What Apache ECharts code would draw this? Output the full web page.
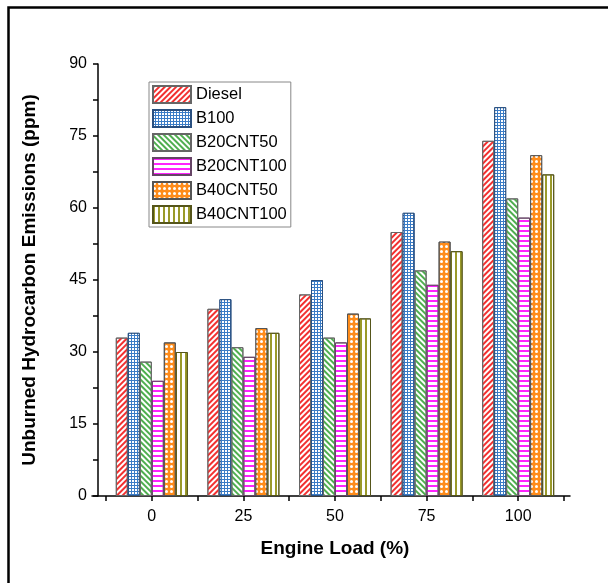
<!DOCTYPE html>
<html>
<head>
<meta charset="utf-8">
<script src="https://cdn.jsdelivr.net/npm/echarts@6/dist/echarts.min.js"></script>
<style>
html,body{margin:0;padding:0;background:#fff;}
#main{width:608px;height:583px;}
</style>
</head>
<body>
<div id="main"></div>
<script>
// 数据
var loads = ['0', '25', '50', '75', '100'];
var diesel = [33, 39, 42, 55, 74];
var b100 = [34, 41, 45, 59, 81];
var b20cnt50 = [28, 31, 33, 47, 62];
var b20cnt100 = [24, 29, 32, 44, 58];
var b40cnt50 = [32, 35, 38, 53, 71];
var b40cnt100 = [30, 34, 37, 51, 67];
var yTicks = [0, 15, 30, 45, 60, 75, 90];

var font = 'Liberation Sans, Arial, sans-serif';

//斜线填充
function stripe(rot, color) {
	return {symbol: 'rect', symbolSize: 1, dashArrayX: [1, 0], dashArrayY: [1.5, 1.6], rotation: rot, color: color};
}

function makeBar(name, data, fill, border, decal) {
	return {
		name: name,
		type: 'bar',
		data: data,
		barWidth: 12,
		barGap: '0%',
		itemStyle: {
			color: fill,
			borderColor: border,
			borderWidth: 1,
			decal: decal
		}
	};
}

var myChart = echarts.init(document.getElementById('main'));

var dieselDecal = stripe(-Math.PI / 4, '#f23030');
var greenDecal = stripe(Math.PI / 4, '#4fae4f');
var pinkDecal = {symbol: 'rect', symbolSize: 1, dashArrayX: [1, 0], dashArrayY: [1.6, 2.2], color: '#ff22ff'};
var gridDecal = {symbol: 'rect', symbolSize: 1, dashArrayX: [2, 1], dashArrayY: [2, 1], color: '#ffffff'};
var dotDecal = {symbol: 'circle', symbolSize: 1, dashArrayX: [2.6, 1.4], dashArrayY: [2.6, 1.4], color: '#ffffff'};
var oliveDecal = {symbol: 'rect', symbolSize: 1, dashArrayX: [1.8, 2.2], dashArrayY: [1, 0], color: '#9a9a2a'};

var option = {
	animation: false,
	backgroundColor: '#fff',
	textStyle: {fontFamily: font},
	graphic: [{
		type: 'rect',
		shape: {x: 8.5, y: 7.5, width: 700, height: 700},
		style: {fill: 'none', stroke: '#000', lineWidth: 2.5},
		silent: true
	}],
	legend: {
		orient: 'vertical',
		left: 149,
		top: 82,
		icon: 'rect',
		itemWidth: 38,
		itemHeight: 17,
		itemGap: 5,
		padding: [3, 4, 3, 3],
		borderColor: '#888',
		borderWidth: 1,
		textStyle: {fontSize: 16.5, color: '#000', fontFamily: font},
		data: ['Diesel', 'B100', 'B20CNT50', 'B20CNT100', 'B40CNT50', 'B40CNT100']
	},
	grid: [
		{left: 106, right: 44, top: 64, bottom: 87},
		{left: 92, right: 38, top: 64, bottom: 87}
	],
	xAxis: [
		{
			type: 'category',
			gridIndex: 0,
			data: loads,
			name: 'Engine Load (%)',
			nameLocation: 'middle',
			nameGap: 43,
			nameTextStyle: {fontSize: 19, fontWeight: 'bold', color: '#000', fontFamily: font},
			axisLine: {show: false},
			axisTick: {show: true, alignWithLabel: true, length: 5, lineStyle: {color: '#000', width: 1.5}},
			axisLabel: {fontSize: 16, color: '#000', margin: 13, fontFamily: font},
			splitLine: {show: false}
		},
		{
			// 分类边界的小刻度
			type: 'category',
			gridIndex: 0,
			position: 'bottom',
			data: loads,
			axisLine: {show: false},
			axisTick: {show: true, alignWithLabel: false, length: 5, lineStyle: {color: '#000', width: 1.5}},
			axisLabel: {show: false},
			splitLine: {show: false}
		},
		{
			type: 'value',
			gridIndex: 1,
			min: 0,
			max: 1,
			axisLine: {show: true, lineStyle: {color: '#000', width: 1.5}},
			axisTick: {show: false},
			axisLabel: {show: false},
			splitLine: {show: false}
		}
	],
	yAxis: [
		{
			type: 'value',
			gridIndex: 0,
			min: yTicks[0],
			max: yTicks[yTicks.length - 1],
			interval: 15,
			offset: 8,
			name: 'Unburned Hydrocarbon Emissions (ppm)',
			nameLocation: 'middle',
			nameGap: 59,
			nameTextStyle: {fontSize: 19, fontWeight: 'bold', color: '#000', fontFamily: font},
			axisLine: {show: true, lineStyle: {color: '#000', width: 1.5}},
			axisTick: {show: true, length: 5, lineStyle: {color: '#000', width: 1.5}},
			minorTick: {show: true, splitNumber: 2, length: 5, lineStyle: {color: '#000', width: 1.5}},
			axisLabel: {fontSize: 16, color: '#000', margin: 11, fontFamily: font},
			splitLine: {show: false}
		},
		{
			type: 'value',
			gridIndex: 1,
			show: false
		}
	],
	series: [
		makeBar('Diesel', diesel, '#ffffff', '#666', dieselDecal),
		makeBar('B100', b100, '#3a7cc6', '#2a5080', gridDecal),
		makeBar('B20CNT50', b20cnt50, '#ffffff', '#666', greenDecal),
		makeBar('B20CNT100', b20cnt100, '#ffffff', '#664466', pinkDecal),
		makeBar('B40CNT50', b40cnt50, '#ff8c1a', '#555', dotDecal),
		makeBar('B40CNT100', b40cnt100, '#ffffff', '#55551a', oliveDecal)
	]
};

myChart.setOption(option);
</script>
</body>
</html>
